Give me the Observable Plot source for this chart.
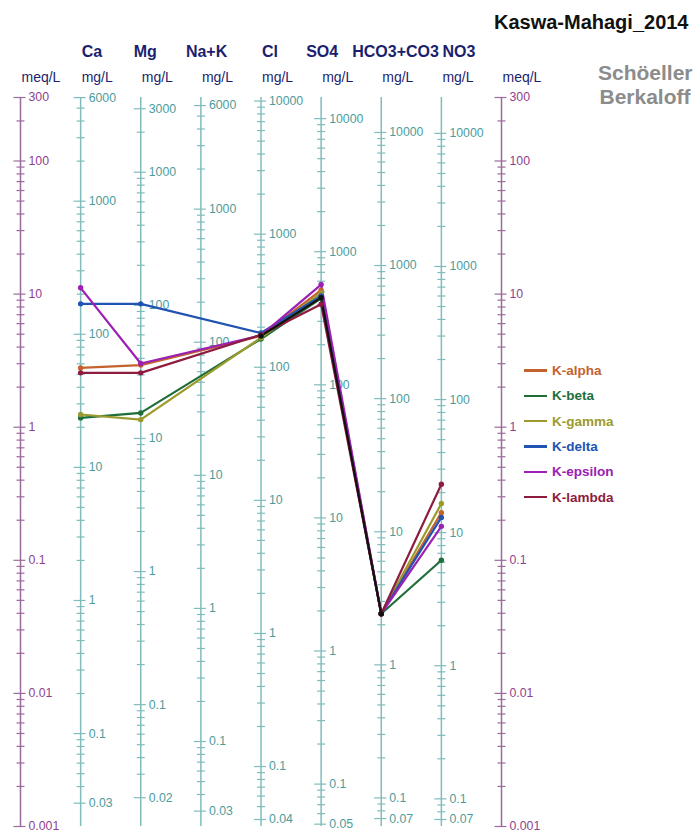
<!DOCTYPE html>
<html><head><meta charset="utf-8">
<script src="https://cdn.jsdelivr.net/npm/d3@7"></script>
<script src="https://cdn.jsdelivr.net/npm/@observablehq/plot@0.6"></script>
<style>
body{margin:0;background:#fff;font-family:"Liberation Sans",Arial,sans-serif;}
#wrap{position:relative;width:694px;height:834px;}
#wrap svg{position:absolute;left:0;top:0;}
#legend{position:absolute;left:524px;top:358px;}
.row{display:flex;align-items:center;height:25.3px;font-weight:bold;font-size:13.5px;}
.sw{width:23px;height:2.5px;margin-right:5px;}
</style></head><body><div id="wrap"><div id="legend"></div></div>
<script>
// ---- data ----
const ions = ["Ca","Mg","Na+K","Cl","SO4","HCO3+CO3","NO3"];
const eqWeights = [20.04, 12.15, 22.99, 35.45, 48.03, 61.02, 62.0];
const meqLabels = [300,100,10,1,0.1,0.01,0.001];
const ionLabels = [
  [6000,1000,100,10,1,0.1,0.03],
  [3000,1000,100,10,1,0.1,0.02],
  [6000,1000,100,10,1,0.1,0.03],
  [10000,1000,100,10,1,0.1,0.04],
  [10000,1000,100,10,1,0.1,0.05],
  [10000,1000,100,10,1,0.1,0.07],
  [10000,1000,100,10,1,0.1,0.07]
];
const seriesNames = ["K-alpha","K-beta","K-gamma","K-delta","K-epsilon","K-lambda"];
// values in meq/L for Ca, Mg, Na+K, Cl, SO4, HCO3+CO3, NO3
const kAlpha   = [2.79, 2.93, null, 4.85, 10.7, 0.0397, 0.228];
const kBeta    = [1.175, 1.28, null, 4.6, 9.3, 0.0397, 0.100];
const kGamma   = [1.246, 1.14, null, 4.7, 10.2, 0.0397, 0.267];
const kDelta   = [8.45, 8.45, null, 5.1, 9.7, 0.0397, 0.210];
const kEpsilon = [11.15, 3.01, null, 4.9, 11.8, 0.0397, 0.180];
const kLambda  = [2.56, 2.56, null, 4.95, 8.4, 0.0397, 0.373];
const kUnnamed = [null, null, null, 4.85, 9.4, 0.0397, null];

// ---- styles ----
const seriesColors = ["#c4622d","#1f6e3a","#9c9a2c","#2153b3","#9b20b3","#8e1c3e","#111111"];
const nameDx = [1, -7, -15, 1, -15, -29, 1];
const teal = "#80bcbc", tealText = "#4c9c9c", purple = "#9d6a9d", purpleText = "#8e3f8e", navy = "#1c1f6e";

// ---- derived tables ----
const allSeries = [kAlpha,kBeta,kGamma,kDelta,kEpsilon,kLambda,kUnnamed];
const points = [];
allSeries.forEach((vals, s) => vals.forEach((v, i) => {
  if (v != null) points.push({s, x: i + 1, y: v});
}));

const axes = [{x:0, w:1, labels: meqLabels, meq:true}]
  .concat(ions.map((n,i)=>({x:i+1, w:eqWeights[i], labels:ionLabels[i], meq:false})))
  .concat([{x:8, w:1, labels: meqLabels, meq:true}]);

const ticks = [];
for (const a of axes) {
  const lo = 0.001 * a.w * (1 - 1e-9), hi = 300 * a.w * (1 + 1e-9);
  for (let k = -3; k <= 5; k++) for (let d = 1; d <= 9; d++) {
    const v = +(d * 10 ** k).toPrecision(3);
    if (v >= lo && v <= hi) ticks.push({x: a.x, y: v / a.w, v, major: a.labels.includes(v), meq: a.meq});
  }
}
const labelsData = ticks.filter(t => t.major);

const hSym = (l, r) => ({draw(ctx, size){ const s = Math.sqrt(size/Math.PI); ctx.moveTo(-l*s, 0); ctx.lineTo(r*s, 0);} });
const majorSym = hSym(1.17, 0.83), minorSym = hSym(1, 1);

const font = "Liberation Sans, Arial, sans-serif";
const marks = [
  Plot.ruleX(axes, {x: "x", y1: 0.001, y2: 300, stroke: d => d.meq ? purple : teal, strokeWidth: 1.5}),
  Plot.dot(ticks.filter(t => t.major), {x: "x", y: "y", r: 6, symbol: majorSym, fill: "none", stroke: d => d.meq ? purple : teal, strokeWidth: 1.2}),
  Plot.dot(ticks.filter(t => !t.major), {x: "x", y: "y", r: 4, symbol: minorSym, fill: "none", stroke: d => d.meq ? purple : teal, strokeWidth: 1.2}),
  Plot.text(labelsData, {x: "x", y: "y", text: d => String(d.v), dx: 8, textAnchor: "start", fontSize: 12.3, fill: d => d.meq ? purpleText : tealText}),
  ...ions.map((n, i) => Plot.text([n], {x: i + 1, frameAnchor: "top", lineAnchor: "middle", dy: -46, dx: nameDx[i], textAnchor: "start", text: d => d, fontSize: 16, fontWeight: "bold", fill: navy})),
  Plot.text(axes, {x: "x", frameAnchor: "top", lineAnchor: "middle", dy: -20, dx: 1, textAnchor: "start", text: d => d.meq ? "meq/L" : "mg/L", fontSize: 14, fill: navy}),
  Plot.line(points, {x: "x", y: "y", z: "s", stroke: d => seriesColors[d.s], strokeWidth: 2.2}),
  Plot.dot(points, {x: "x", y: "y", r: 2.7, fill: d => seriesColors[d.s], stroke: "none"}),
  Plot.text(["Kaswa-Mahagi_2014"], {frameAnchor: "top-right", lineAnchor: "middle", dx: 187, dy: -75, textAnchor: "end", text: d => d, fontSize: 20, fontWeight: "bold", fill: "#111"}),
  Plot.text(["Schöeller"], {frameAnchor: "top-right", lineAnchor: "middle", dx: 191, dy: -24, textAnchor: "end", text: d => d, fontSize: 21, fontWeight: "bold", fill: "#8c8c8c", letterSpacing: "0.6px"}),
  Plot.text(["Berkaloff"], {frameAnchor: "top-right", lineAnchor: "middle", dx: 189, dy: -0.5, textAnchor: "end", text: d => d, fontSize: 21, fontWeight: "bold", fill: "#8c8c8c", letterSpacing: "0.6px"})
];

const chart = Plot.plot({
  width: 694, height: 834,
  marginLeft: 20, marginRight: 193, marginTop: 97, marginBottom: 8,
  style: {fontFamily: font, background: "transparent", overflow: "visible"},
  x: {domain: [0, 8], axis: null},
  y: {type: "log", domain: [0.001, 300], axis: null},
  marks
});
document.getElementById("wrap").prepend(chart);

const leg = document.getElementById("legend");
seriesNames.forEach((n, i) => {
  const row = document.createElement("div");
  row.className = "row";
  row.style.color = seriesColors[i];
  row.innerHTML = `<span class="sw" style="background:${seriesColors[i]}"></span>${n}`;
  leg.appendChild(row);
});
</script></body></html>
